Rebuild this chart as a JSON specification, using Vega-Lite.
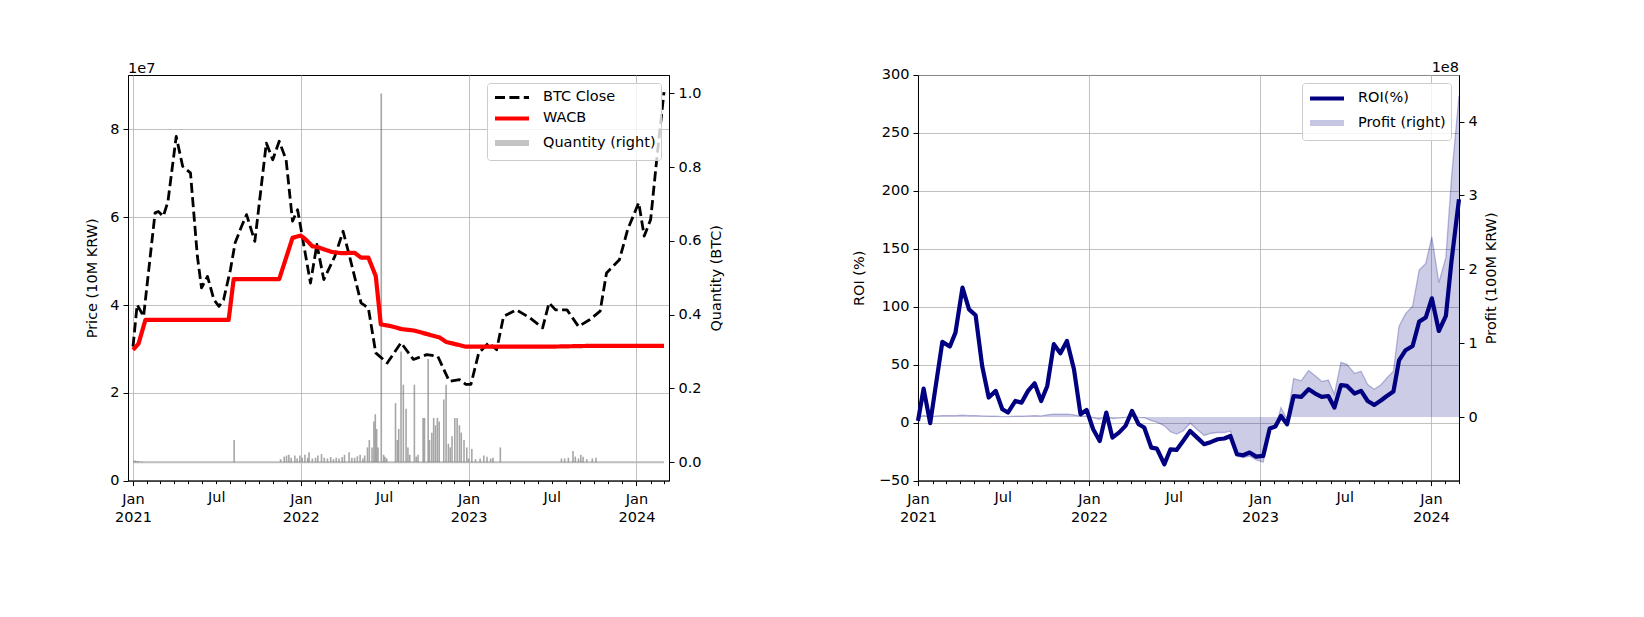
{
  "$schema": "https://vega.github.io/schema/vega-lite/v6.json",
  "background": "white",
  "padding": {"left": 84, "top": 60, "right": 5, "bottom": 5},
  "config": {
    "font": "DejaVu Sans",
    "view": {"stroke": "black", "strokeWidth": 1},
    "axis": {"labelFont": "DejaVu Sans", "labelFontSize": 14.5, "labelColor": "black", "titleFont": "DejaVu Sans", "titleFontSize": 14.5, "titleFontWeight": "normal", "titleColor": "black", "domainColor": "black", "domainWidth": 1, "tickColor": "black", "tickWidth": 1, "tickSize": 5, "labelPadding": 4, "gridColor": "#b0b0b0", "gridWidth": 0.8},
    "legend": {"labelFont": "DejaVu Sans", "labelFontSize": 14.5, "labelColor": "black"},
    "title": {"font": "DejaVu Sans", "fontSize": 14.5, "fontWeight": "normal", "color": "black"}
  },
  "datasets": {
    "price": [
      {"date":"2021-01-01","series":"BTC Close","price":30500000},{"date":"2021-01-10","series":"BTC Close","price":40100000},{"date":"2021-01-24","series":"BTC Close","price":37400000},{"date":"2021-02-18","series":"BTC Close","price":61000000},{"date":"2021-02-25","series":"BTC Close","price":61300000},{"date":"2021-03-08","series":"BTC Close","price":60200000},{"date":"2021-03-18","series":"BTC Close","price":63600000},{"date":"2021-04-05","series":"BTC Close","price":78400000},{"date":"2021-04-19","series":"BTC Close","price":71600000},{"date":"2021-05-06","series":"BTC Close","price":70100000},{"date":"2021-05-21","series":"BTC Close","price":51100000},{"date":"2021-05-30","series":"BTC Close","price":43900000},{"date":"2021-06-12","series":"BTC Close","price":46500000},{"date":"2021-06-26","series":"BTC Close","price":41200000},{"date":"2021-07-07","series":"BTC Close","price":39700000},{"date":"2021-07-17","series":"BTC Close","price":41200000},{"date":"2021-08-01","series":"BTC Close","price":48100000},{"date":"2021-08-11","series":"BTC Close","price":54100000},{"date":"2021-08-25","series":"BTC Close","price":57900000},{"date":"2021-09-05","series":"BTC Close","price":60600000},{"date":"2021-09-23","series":"BTC Close","price":54500000},{"date":"2021-10-18","series":"BTC Close","price":76900000},{"date":"2021-11-01","series":"BTC Close","price":73100000},{"date":"2021-11-15","series":"BTC Close","price":77300000},{"date":"2021-11-30","series":"BTC Close","price":73100000},{"date":"2021-12-14","series":"BTC Close","price":59100000},{"date":"2021-12-25","series":"BTC Close","price":61700000},{"date":"2022-01-22","series":"BTC Close","price":45000000},{"date":"2022-02-05","series":"BTC Close","price":53800000},{"date":"2022-02-20","series":"BTC Close","price":45800000},{"date":"2022-03-16","series":"BTC Close","price":51100000},{"date":"2022-04-03","series":"BTC Close","price":56800000},{"date":"2022-04-17","series":"BTC Close","price":51100000},{"date":"2022-05-12","series":"BTC Close","price":40500000},{"date":"2022-05-28","series":"BTC Close","price":39300000},{"date":"2022-06-13","series":"BTC Close","price":29100000},{"date":"2022-07-08","series":"BTC Close","price":26800000},{"date":"2022-08-07","series":"BTC Close","price":31400000},{"date":"2022-09-03","series":"BTC Close","price":27600000},{"date":"2022-10-02","series":"BTC Close","price":28700000},{"date":"2022-10-26","series":"BTC Close","price":28300000},{"date":"2022-11-20","series":"BTC Close","price":22600000},{"date":"2022-12-12","series":"BTC Close","price":23000000},{"date":"2022-12-26","series":"BTC Close","price":21900000},{"date":"2023-01-06","series":"BTC Close","price":21900000},{"date":"2023-01-23","series":"BTC Close","price":29100000},{"date":"2023-02-14","series":"BTC Close","price":31400000},{"date":"2023-03-03","series":"BTC Close","price":29800000},{"date":"2023-03-18","series":"BTC Close","price":37400000},{"date":"2023-04-15","series":"BTC Close","price":38900000},{"date":"2023-05-14","series":"BTC Close","price":37100000},{"date":"2023-06-11","series":"BTC Close","price":34800000},{"date":"2023-06-25","series":"BTC Close","price":40500000},{"date":"2023-07-09","series":"BTC Close","price":38900000},{"date":"2023-08-03","series":"BTC Close","price":38900000},{"date":"2023-08-28","series":"BTC Close","price":35100000},{"date":"2023-09-22","series":"BTC Close","price":36700000},{"date":"2023-10-14","series":"BTC Close","price":38600000},{"date":"2023-10-28","series":"BTC Close","price":47300000},{"date":"2023-11-25","series":"BTC Close","price":50300000},{"date":"2023-12-13","series":"BTC Close","price":57200000},{"date":"2024-01-06","series":"BTC Close","price":63300000},{"date":"2024-01-18","series":"BTC Close","price":55700000},{"date":"2024-02-01","series":"BTC Close","price":59500000},{"date":"2024-02-14","series":"BTC Close","price":73000000},{"date":"2024-03-01","series":"BTC Close","price":88500000},
      {"date":"2021-01-01","series":"WACB","price":29800000},{"date":"2021-01-13","series":"WACB","price":31200000},{"date":"2021-01-28","series":"WACB","price":36600000},{"date":"2021-07-28","series":"WACB","price":36600000},{"date":"2021-08-08","series":"WACB","price":45900000},{"date":"2021-11-15","series":"WACB","price":45900000},{"date":"2021-12-14","series":"WACB","price":55300000},{"date":"2021-12-28","series":"WACB","price":55700000},{"date":"2022-01-01","series":"WACB","price":55800000},{"date":"2022-01-11","series":"WACB","price":55000000},{"date":"2022-01-26","series":"WACB","price":53400000},{"date":"2022-02-09","series":"WACB","price":53100000},{"date":"2022-03-09","series":"WACB","price":52100000},{"date":"2022-03-31","series":"WACB","price":51800000},{"date":"2022-04-28","series":"WACB","price":51900000},{"date":"2022-05-12","series":"WACB","price":50800000},{"date":"2022-05-28","series":"WACB","price":50800000},{"date":"2022-06-13","series":"WACB","price":46600000},{"date":"2022-06-24","series":"WACB","price":35600000},{"date":"2022-07-15","series":"WACB","price":35200000},{"date":"2022-08-09","series":"WACB","price":34500000},{"date":"2022-09-03","series":"WACB","price":34200000},{"date":"2022-10-02","series":"WACB","price":33400000},{"date":"2022-10-30","series":"WACB","price":32600000},{"date":"2022-11-13","series":"WACB","price":31600000},{"date":"2022-12-26","series":"WACB","price":30500000},{"date":"2023-01-31","series":"WACB","price":30500000},{"date":"2023-06-20","series":"WACB","price":30500000},{"date":"2023-09-28","series":"WACB","price":30700000},{"date":"2024-03-01","series":"WACB","price":30700000}
    ],
    "qty": [
      {"date":"2021-01-03","qty":0.004},{"date":"2021-01-06","qty":0.004},{"date":"2021-01-09","qty":0.003},{"date":"2021-01-13","qty":0.003},{"date":"2021-01-20","qty":0.002},{"date":"2021-08-09","qty":0.06},{"date":"2021-11-18","qty":0.008},{"date":"2021-11-26","qty":0.015},{"date":"2021-12-01","qty":0.018},{"date":"2021-12-06","qty":0.02},{"date":"2021-12-11","qty":0.012},{"date":"2021-12-19","qty":0.018},{"date":"2021-12-24","qty":0.01},{"date":"2021-12-30","qty":0.018},{"date":"2022-01-04","qty":0.012},{"date":"2022-01-10","qty":0.02},{"date":"2022-01-16","qty":0.012},{"date":"2022-01-19","qty":0.027},{"date":"2022-01-26","qty":0.01},{"date":"2022-02-02","qty":0.012},{"date":"2022-02-07","qty":0.018},{"date":"2022-02-15","qty":0.022},{"date":"2022-02-21","qty":0.012},{"date":"2022-02-28","qty":0.01},{"date":"2022-03-07","qty":0.014},{"date":"2022-03-13","qty":0.008},{"date":"2022-03-19","qty":0.012},{"date":"2022-03-25","qty":0.01},{"date":"2022-04-01","qty":0.014},{"date":"2022-04-06","qty":0.02},{"date":"2022-04-16","qty":0.027},{"date":"2022-04-22","qty":0.012},{"date":"2022-04-28","qty":0.012},{"date":"2022-05-04","qty":0.016},{"date":"2022-05-10","qty":0.02},{"date":"2022-05-16","qty":0.01},{"date":"2022-05-20","qty":0.018},{"date":"2022-05-26","qty":0.04},{"date":"2022-05-30","qty":0.06},{"date":"2022-06-05","qty":0.04},{"date":"2022-06-09","qty":0.11},{"date":"2022-06-12","qty":0.13},{"date":"2022-06-15","qty":0.09},{"date":"2022-06-18","qty":0.04},{"date":"2022-06-25","qty":1.0},{"date":"2022-06-30","qty":0.02},{"date":"2022-07-03","qty":0.015},{"date":"2022-07-07","qty":0.01},{"date":"2022-07-26","qty":0.16},{"date":"2022-07-30","qty":0.06},{"date":"2022-08-02","qty":0.09},{"date":"2022-08-07","qty":0.3},{"date":"2022-08-12","qty":0.21},{"date":"2022-08-18","qty":0.145},{"date":"2022-08-22","qty":0.04},{"date":"2022-08-26","qty":0.02},{"date":"2022-09-05","qty":0.21},{"date":"2022-09-09","qty":0.015},{"date":"2022-09-13","qty":0.02},{"date":"2022-09-24","qty":0.12},{"date":"2022-09-27","qty":0.12},{"date":"2022-10-05","qty":0.28},{"date":"2022-10-08","qty":0.06},{"date":"2022-10-13","qty":0.08},{"date":"2022-10-17","qty":0.12},{"date":"2022-10-21","qty":0.1},{"date":"2022-10-25","qty":0.12},{"date":"2022-10-29","qty":0.11},{"date":"2022-11-08","qty":0.17},{"date":"2022-11-13","qty":0.21},{"date":"2022-11-18","qty":0.05},{"date":"2022-11-22","qty":0.04},{"date":"2022-11-26","qty":0.07},{"date":"2022-12-02","qty":0.12},{"date":"2022-12-07","qty":0.12},{"date":"2022-12-12","qty":0.1},{"date":"2022-12-16","qty":0.08},{"date":"2022-12-22","qty":0.06},{"date":"2022-12-28","qty":0.04},{"date":"2023-01-01","qty":0.01},{"date":"2023-01-08","qty":0.036},{"date":"2023-01-16","qty":0.008},{"date":"2023-01-26","qty":0.01},{"date":"2023-02-03","qty":0.018},{"date":"2023-02-10","qty":0.015},{"date":"2023-02-18","qty":0.01},{"date":"2023-02-23","qty":0.012},{"date":"2023-03-11","qty":0.04},{"date":"2023-07-22","qty":0.01},{"date":"2023-07-29","qty":0.01},{"date":"2023-08-06","qty":0.012},{"date":"2023-08-16","qty":0.03},{"date":"2023-08-21","qty":0.015},{"date":"2023-08-28","qty":0.01},{"date":"2023-09-02","qty":0.02},{"date":"2023-09-07","qty":0.015},{"date":"2023-09-15","qty":0.008},{"date":"2023-09-27","qty":0.01},{"date":"2023-10-05","qty":0.012}
    ],
    "base": [
      {"date":"2021-01-01","qty":0},{"date":"2024-03-01","qty":0}
    ],
    "roi": [
      {"date":"2021-01-01","roi":1.5,"profit":0},{"date":"2021-01-13","roi":29.4,"profit":2000000},{"date":"2021-01-27","roi":-0.5,"profit":0},{"date":"2021-02-10","roi":37.4,"profit":1500000},{"date":"2021-02-22","roi":69.7,"profit":2000000},{"date":"2021-03-10","roi":65.7,"profit":2000000},{"date":"2021-03-22","roi":77.7,"profit":2000000},{"date":"2021-04-06","roi":116.6,"profit":2500000},{"date":"2021-04-20","roi":97.8,"profit":2000000},{"date":"2021-05-04","roi":92.7,"profit":2000000},{"date":"2021-05-18","roi":48.9,"profit":1500000},{"date":"2021-06-01","roi":21.7,"profit":1000000},{"date":"2021-06-16","roi":27.4,"profit":1000000},{"date":"2021-06-30","roi":11.6,"profit":500000},{"date":"2021-07-12","roi":8.7,"profit":500000},{"date":"2021-07-28","roi":18.7,"profit":1000000},{"date":"2021-08-10","roi":17.3,"profit":1000000},{"date":"2021-08-24","roi":27.4,"profit":1500000},{"date":"2021-09-07","roi":34.0,"profit":2000000},{"date":"2021-09-21","roi":18.7,"profit":1500000},{"date":"2021-10-04","roi":31.7,"profit":3000000},{"date":"2021-10-18","roi":67.7,"profit":4000000},{"date":"2021-11-01","roi":59.9,"profit":4000000},{"date":"2021-11-15","roi":70.5,"profit":4000000},{"date":"2021-11-30","roi":46.1,"profit":3000000},{"date":"2021-12-14","roi":7.2,"profit":1000000},{"date":"2021-12-27","roi":11.0,"profit":1500000},{"date":"2022-01-10","roi":-5.7,"profit":-1000000},{"date":"2022-01-24","roi":-15.8,"profit":-3000000},{"date":"2022-02-07","roi":8.7,"profit":1000000},{"date":"2022-02-20","roi":-12.9,"profit":-2000000},{"date":"2022-03-06","roi":-8.6,"profit":-1500000},{"date":"2022-03-20","roi":-2.8,"profit":-500000},{"date":"2022-04-03","roi":10.1,"profit":1500000},{"date":"2022-04-17","roi":-1.4,"profit":-500000},{"date":"2022-04-29","roi":-4.2,"profit":-1000000},{"date":"2022-05-14","roi":-21.5,"profit":-5000000},{"date":"2022-05-26","roi":-22.4,"profit":-7000000},{"date":"2022-06-11","roi":-35.9,"profit":-12000000},{"date":"2022-06-24","roi":-23.0,"profit":-20000000},{"date":"2022-07-07","roi":-23.5,"profit":-23000000},{"date":"2022-07-21","roi":-15.8,"profit":-19000000},{"date":"2022-08-05","roi":-7.2,"profit":-8500000},{"date":"2022-08-20","roi":-12.9,"profit":-17000000},{"date":"2022-09-04","roi":-18.6,"profit":-25000000},{"date":"2022-09-19","roi":-16.6,"profit":-22000000},{"date":"2022-10-03","roi":-14.3,"profit":-21000000},{"date":"2022-10-17","roi":-13.7,"profit":-21000000},{"date":"2022-10-30","roi":-11.5,"profit":-19000000},{"date":"2022-11-13","roi":-27.3,"profit":-53000000},{"date":"2022-11-26","roi":-28.1,"profit":-55000000},{"date":"2022-12-10","roi":-25.8,"profit":-53000000},{"date":"2022-12-24","roi":-29.3,"profit":-58000000},{"date":"2023-01-08","roi":-28.7,"profit":-61000000},{"date":"2023-01-22","roi":-5.1,"profit":-17000000},{"date":"2023-02-03","roi":-3.4,"profit":-14000000},{"date":"2023-02-15","roi":5.8,"profit":13000000},{"date":"2023-02-28","roi":-1.4,"profit":-3000000},{"date":"2023-03-14","roi":23.0,"profit":52000000},{"date":"2023-03-30","roi":22.2,"profit":49000000},{"date":"2023-04-15","roi":28.8,"profit":63000000},{"date":"2023-04-29","roi":25.1,"profit":56000000},{"date":"2023-05-13","roi":22.2,"profit":48000000},{"date":"2023-05-27","roi":23.0,"profit":50000000},{"date":"2023-06-09","roi":13.0,"profit":31000000},{"date":"2023-06-23","roi":32.5,"profit":74000000},{"date":"2023-07-06","roi":31.7,"profit":71000000},{"date":"2023-07-22","roi":25.1,"profit":59000000},{"date":"2023-08-05","roi":27.4,"profit":62000000},{"date":"2023-08-19","roi":18.7,"profit":44000000},{"date":"2023-09-02","roi":15.3,"profit":37500000},{"date":"2023-09-17","roi":19.3,"profit":44000000},{"date":"2023-09-29","roi":23.0,"profit":53000000},{"date":"2023-10-13","roi":26.8,"profit":62000000},{"date":"2023-10-25","roi":53.8,"profit":123000000},{"date":"2023-11-08","roi":62.5,"profit":140000000},{"date":"2023-11-23","roi":66.2,"profit":150000000},{"date":"2023-12-07","roi":87.2,"profit":199000000},{"date":"2023-12-21","roi":90.7,"profit":208000000},{"date":"2024-01-03","roi":107.3,"profit":244000000},{"date":"2024-01-18","roi":79.1,"profit":182000000},{"date":"2024-02-02","roi":92.1,"profit":216000000},{"date":"2024-02-14","roi":139.5,"profit":324000000},{"date":"2024-03-01","roi":192.8,"profit":435000000}
    ]
  },
  "bounds": "flush",
  "spacing": 249,
  "resolve": {"scale": {"color": "independent", "strokeDash": "independent", "strokeWidth": "independent"}, "legend": {"color": "independent", "strokeDash": "independent", "strokeWidth": "independent"}},
  "hconcat": [
    {
      "width": 541,
      "height": 405.6,
      "title": {"text": "1e7", "anchor": "start", "frame": "group", "offset": -2},
      "encoding": {
        "x": {
          "field": "date", "type": "temporal",
          "scale": {"type": "utc", "domain": [{"year": 2021, "month": 1, "date": 1, "utc": true}, {"year": 2024, "month": 3, "date": 1, "utc": true}], "nice": false},
          "axis": {
            "title": null,
            "tickCount": {"interval": "month", "step": 1},
            "labelExpr": "utcmonth(datum.value) == 0 ? ['Jan', '' + utcyear(datum.value)] : (utcmonth(datum.value) == 6 ? 'Jul' : '')",
            "labelOverlap": false, "labelFlush": false, "labelAlign": "center", "labelBaseline": "top",
            "labelLineHeight": 18, "labelPadding": 7,
            "grid": true,
            "gridOpacity": {"condition": {"test": "utcmonth(datum.value) == 0", "value": 1}, "value": 0},
            "tickSize": {"condition": {"test": "utcmonth(datum.value) == 0", "value": 5}, "value": 3}
          }
        }
      },
      "layer": [
        {
          "layer": [
            {
              "data": {"name": "base"},
              "mark": {"type": "line", "color": "#bdbdbd", "strokeWidth": 2},
              "encoding": {"y": {"field": "qty", "type": "quantitative", "scale": {"domain": [-0.05, 1.05], "nice": false, "zero": false}}}
            },
            {
              "data": {"name": "qty"},
              "mark": {"type": "bar", "width": 1.6, "color": "#808080", "opacity": 0.7},
              "encoding": {
                "y": {"field": "qty", "type": "quantitative", "scale": {"domain": [-0.05, 1.05], "nice": false, "zero": false},
                      "axis": {"orient": "right", "title": "Quantity (BTC)", "values": [0, 0.2, 0.4, 0.6, 0.8, 1.0], "format": ".1f", "grid": false, "titleAngle": 270, "titleBaseline": "top", "titlePadding": 8}},
                "y2": {"datum": 0}
              }
            }
          ]
        },
        {
          "data": {"name": "price"},
          "mark": {"type": "line", "strokeJoin": "round"},
          "encoding": {
            "y": {"field": "price", "type": "quantitative", "scale": {"domain": [0, 92400000], "nice": false},
                  "axis": {"orient": "left", "title": "Price (10M KRW)", "values": [0, 20000000, 40000000, 60000000, 80000000], "labelExpr": "datum.value / 10000000", "grid": true, "titlePadding": 10}},
            "color": {"field": "series", "type": "nominal",
              "scale": {"domain": ["BTC Close", "WACB", "Quantity (right)"], "range": ["#000000", "#ff0000", "#c4c4c4"]},
              "legend": {"title": null, "orient": "top-right", "offset": 8, "padding": 5, "rowPadding": 4, "fillColor": "rgba(255,255,255,0.8)", "strokeColor": "#cccccc", "cornerRadius": 3, "symbolType": "M-1,0L3.25,0", "symbolSize": 256, "labelOffset": 29, "labelFontSize": 14.5}},
            "strokeDash": {"field": "series", "type": "nominal",
              "scale": {"domain": ["BTC Close", "WACB", "Quantity (right)"], "range": [[10, 4.4], [1, 0], [1, 0]]},
              "legend": {"title": null, "orient": "top-right", "offset": 8, "padding": 5, "rowPadding": 4, "fillColor": "rgba(255,255,255,0.8)", "strokeColor": "#cccccc", "cornerRadius": 3, "symbolType": "M-1,0L3.25,0", "symbolSize": 256, "labelOffset": 29, "labelFontSize": 14.5}},
            "strokeWidth": {"field": "series", "type": "nominal",
              "scale": {"type": "ordinal", "domain": ["BTC Close", "WACB", "Quantity (right)"], "range": [2.8, 4.2, 6]},
              "legend": {"title": null, "orient": "top-right", "offset": 8, "padding": 5, "rowPadding": 4, "fillColor": "rgba(255,255,255,0.8)", "strokeColor": "#cccccc", "cornerRadius": 3, "symbolType": "M-1,0L3.25,0", "symbolSize": 256, "labelOffset": 29, "labelFontSize": 14.5}}
          }
        }
      ],
      "resolve": {"scale": {"y": "independent"}}
    },
    {
      "width": 541,
      "height": 405.6,
      "title": {"text": "1e8", "anchor": "end", "frame": "group", "offset": -9},
      "encoding": {
        "x": {
          "field": "date", "type": "temporal",
          "scale": {"type": "utc", "domain": [{"year": 2021, "month": 1, "date": 1, "utc": true}, {"year": 2024, "month": 3, "date": 1, "utc": true}], "nice": false},
          "axis": {
            "title": null,
            "tickCount": {"interval": "month", "step": 1},
            "labelExpr": "utcmonth(datum.value) == 0 ? ['Jan', '' + utcyear(datum.value)] : (utcmonth(datum.value) == 6 ? 'Jul' : '')",
            "labelOverlap": false, "labelFlush": false, "labelAlign": "center", "labelBaseline": "top",
            "labelLineHeight": 18, "labelPadding": 7,
            "grid": true,
            "gridOpacity": {"condition": {"test": "utcmonth(datum.value) == 0", "value": 1}, "value": 0},
            "tickSize": {"condition": {"test": "utcmonth(datum.value) == 0", "value": 5}, "value": 3}
          }
        }
      },
      "layer": [
        {
          "layer": [
            {
              "data": {"name": "roi"},
              "mark": {"type": "area", "color": "#000080", "opacity": 0.2},
              "encoding": {
                "y": {"field": "profit", "type": "quantitative", "scale": {"domain": [-86100000, 463100000], "nice": false, "zero": false},
                      "axis": {"orient": "right", "title": "Profit (100M KRW)", "values": [0, 100000000, 200000000, 300000000, 400000000], "labelExpr": "datum.value / 100000000", "grid": false, "titleAngle": 270, "titleBaseline": "top", "titlePadding": 7}},
                "y2": {"datum": 0}
              }
            },
            {
              "data": {"name": "roi"},
              "mark": {"type": "line", "color": "#000080", "opacity": 0.25, "strokeWidth": 1.3},
              "encoding": {"y": {"field": "profit", "type": "quantitative"}}
            }
          ]
        },
        {
          "data": {"name": "roi"},
          "mark": {"type": "line", "strokeJoin": "round"},
          "encoding": {
            "y": {"field": "roi", "type": "quantitative", "scale": {"domain": [-50, 300], "nice": false},
                  "axis": {"orient": "left", "title": "ROI (%)", "values": [-50, 0, 50, 100, 150, 200, 250, 300], "labelExpr": "replace(format(datum.value, 'd'), '-', '\u2212')", "grid": true, "titlePadding": 12}},
            "color": {"datum": "ROI(%)", "type": "nominal",
              "scale": {"domain": ["ROI(%)", "Profit (right)"], "range": ["#000080", "#c6c6e4"]},
              "legend": {"title": null, "orient": "top-right", "offset": 8, "padding": 5, "rowPadding": 4, "fillColor": "rgba(255,255,255,0.8)", "strokeColor": "#cccccc", "cornerRadius": 3, "symbolType": "M-1,0L3.25,0", "symbolSize": 256, "labelOffset": 29, "labelFontSize": 14.5}},
            "strokeWidth": {"datum": "ROI(%)", "type": "nominal",
              "scale": {"type": "ordinal", "domain": ["ROI(%)", "Profit (right)"], "range": [4.2, 6]},
              "legend": {"title": null, "orient": "top-right", "offset": 8, "padding": 5, "rowPadding": 4, "fillColor": "rgba(255,255,255,0.8)", "strokeColor": "#cccccc", "cornerRadius": 3, "symbolType": "M-1,0L3.25,0", "symbolSize": 256, "labelOffset": 29, "labelFontSize": 14.5}}
          }
        }
      ],
      "resolve": {"scale": {"y": "independent"}}
    }
  ]
}
